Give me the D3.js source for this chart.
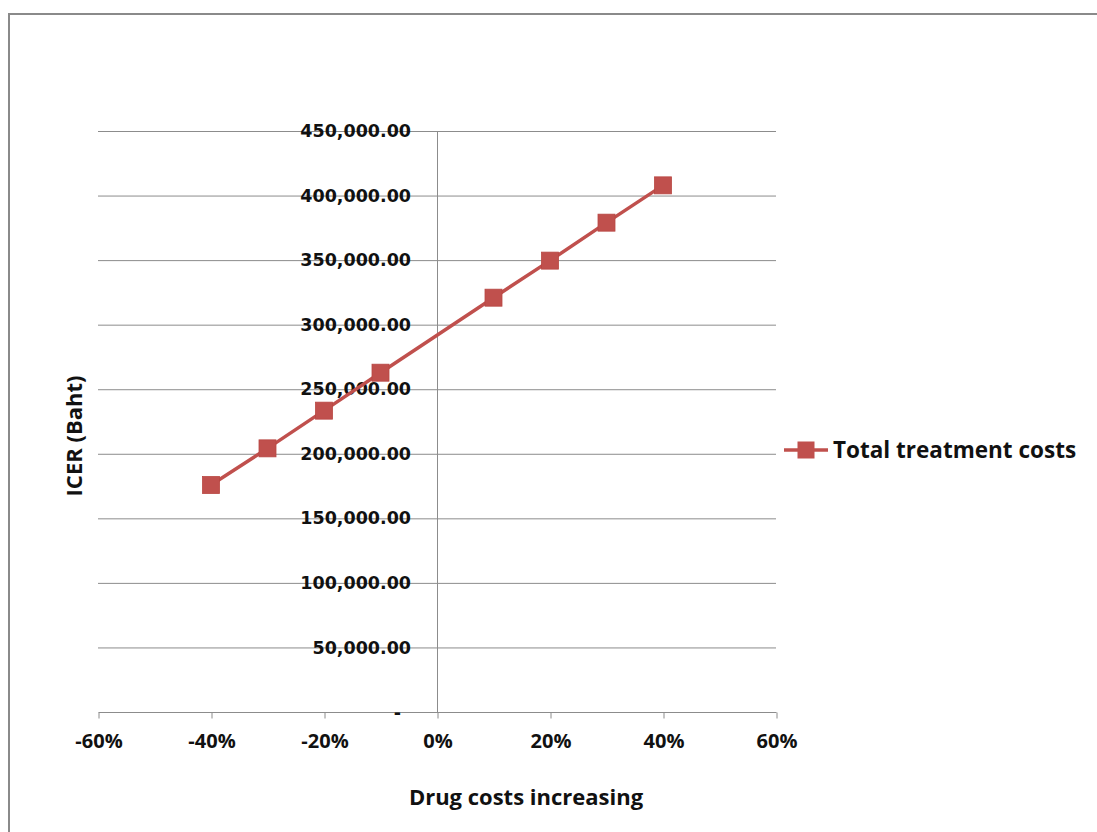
<!DOCTYPE html>
<html>
<head>
<meta charset="utf-8">
<script src="https://cdn.jsdelivr.net/npm/d3@7"></script>
<style>
  html, body { margin: 0; padding: 0; background: #fff; }
  svg { display: block; }
</style>
</head>
<body>
<svg id="chart" width="1097" height="832"></svg>
<script>
// Sensitivity of the ICER to changes in drug costs
const seriesName = "Total treatment costs";
const drugCostChange = [-0.4, -0.3, -0.2, -0.1, 0.1, 0.2, 0.3, 0.4];
const icerValues = [175800, 204200, 233400, 262800, 320900, 349600, 379000, 407900];
const xTicks = [-0.6, -0.4, -0.2, 0, 0.2, 0.4, 0.6];
const yTicks = [0, 50000, 100000, 150000, 200000, 250000, 300000, 350000, 400000, 450000];
const xTitle = "Drug costs increasing";
const yTitle = "ICER (Baht)";

const svg = d3.select("#chart");
const color = "#C0504D";
const gridColor = "#8c8c8c";
const numFont = "'DejaVu Sans', Verdana, sans-serif";
const textFont = "'Open Sans', Calibri, sans-serif";

// outer chart frame
svg.append("rect")
  .attr("x", 9).attr("y", 14)
  .attr("width", 1110).attr("height", 840)
  .attr("fill", "none").attr("stroke", "#8a8a8a").attr("stroke-width", 2);

const plot = { left: 98, right: 776, top: 131, bottom: 712 };

const x = d3.scaleLinear().domain([-0.6, 0.6]).range([plot.left, plot.right]);
const y = d3.scaleLinear().domain([0, 450000]).range([plot.bottom, plot.top]);

// horizontal gridlines
svg.append("g")
  .selectAll("line")
  .data(yTicks.filter(d => d > 0))
  .join("line")
  .attr("x1", plot.left).attr("x2", plot.right)
  .attr("y1", d => y(d) + 0.5).attr("y2", d => y(d) + 0.5)
  .attr("stroke", gridColor).attr("stroke-width", 1);

// vertical value axis crossing at 0%
svg.append("line")
  .attr("x1", x(0) + 0.5).attr("x2", x(0) + 0.5)
  .attr("y1", plot.top).attr("y2", plot.bottom)
  .attr("stroke", gridColor).attr("stroke-width", 1);

// horizontal category axis with ticks
const xAxis = d3.axisBottom(x)
  .tickValues(xTicks)
  .tickSize(6)
  .tickPadding(15)
  .tickFormat(d3.format(".0%"));

const gx = svg.append("g")
  .attr("transform", `translate(0.5,${plot.bottom + 0.5})`)
  .call(xAxis);
gx.select(".domain").attr("stroke", gridColor).attr("d", `M${plot.left},0H${plot.right}`);
gx.selectAll(".tick line").attr("stroke", gridColor);
gx.selectAll(".tick text")
  .attr("fill", "#111")
  .style("font-family", textFont)
  .style("font-weight", "700")
  .style("font-size", "20px")
  .text(d => d3.format(".0%")(d).replace("−", "-"));

// value axis labels placed left of the 0% line
const yLabel = d => d === 0 ? "-" : d3.format(",.2f")(d);
svg.append("g")
  .selectAll("text")
  .data(yTicks)
  .join("text")
  .attr("x", d => d === 0 ? 401 : 411)
  .attr("y", d => y(d))
  .attr("dy", d => d === 0 ? "0.4em" : "0.35em")
  .attr("text-anchor", "end")
  .attr("fill", "#111")
  .style("font-family", numFont)
  .style("font-weight", "700")
  .style("font-size", "17.5px")
  .text(yLabel);

// series line
const pts = drugCostChange.map((d, i) => [d, icerValues[i]]);
svg.append("path")
  .datum(pts)
  .attr("fill", "none")
  .attr("stroke", color)
  .attr("stroke-width", 3.5)
  .attr("d", d3.line().x(d => x(d[0])).y(d => y(d[1])));

// square markers
const m = 17;
svg.append("g")
  .selectAll("rect")
  .data(pts)
  .join("rect")
  .attr("x", d => x(d[0]) - m / 2)
  .attr("y", d => y(d[1]) - m / 2)
  .attr("width", m).attr("height", m)
  .attr("fill", color)
  .attr("stroke", "#b84743").attr("stroke-width", 0.8);

// axis titles
svg.append("text")
  .attr("x", 526)
  .attr("y", 805)
  .attr("text-anchor", "middle")
  .attr("fill", "#111")
  .style("font-family", textFont)
  .style("font-weight", "700")
  .style("font-size", "22px")
  .text(xTitle);

svg.append("text")
  .attr("transform", `translate(82,${436}) rotate(-90)`)
  .attr("text-anchor", "middle")
  .attr("fill", "#111")
  .style("font-family", textFont)
  .style("font-weight", "700")
  .style("font-size", "22px")
  .text(yTitle);

// legend
const lg = svg.append("g").attr("transform", "translate(784,450)");
lg.append("line").attr("x1", 0).attr("x2", 44).attr("y1", 0).attr("y2", 0)
  .attr("stroke", color).attr("stroke-width", 3.5);
lg.append("rect").attr("x", 22 - m / 2).attr("y", -m / 2).attr("width", m).attr("height", m)
  .attr("fill", color);
lg.append("text")
  .attr("x", 49).attr("y", 0).attr("dy", "0.35em")
  .attr("fill", "#111")
  .style("font-family", textFont)
  .style("font-weight", "700")
  .style("font-size", "22.5px")
  .text(seriesName);
</script>
</body>
</html>
